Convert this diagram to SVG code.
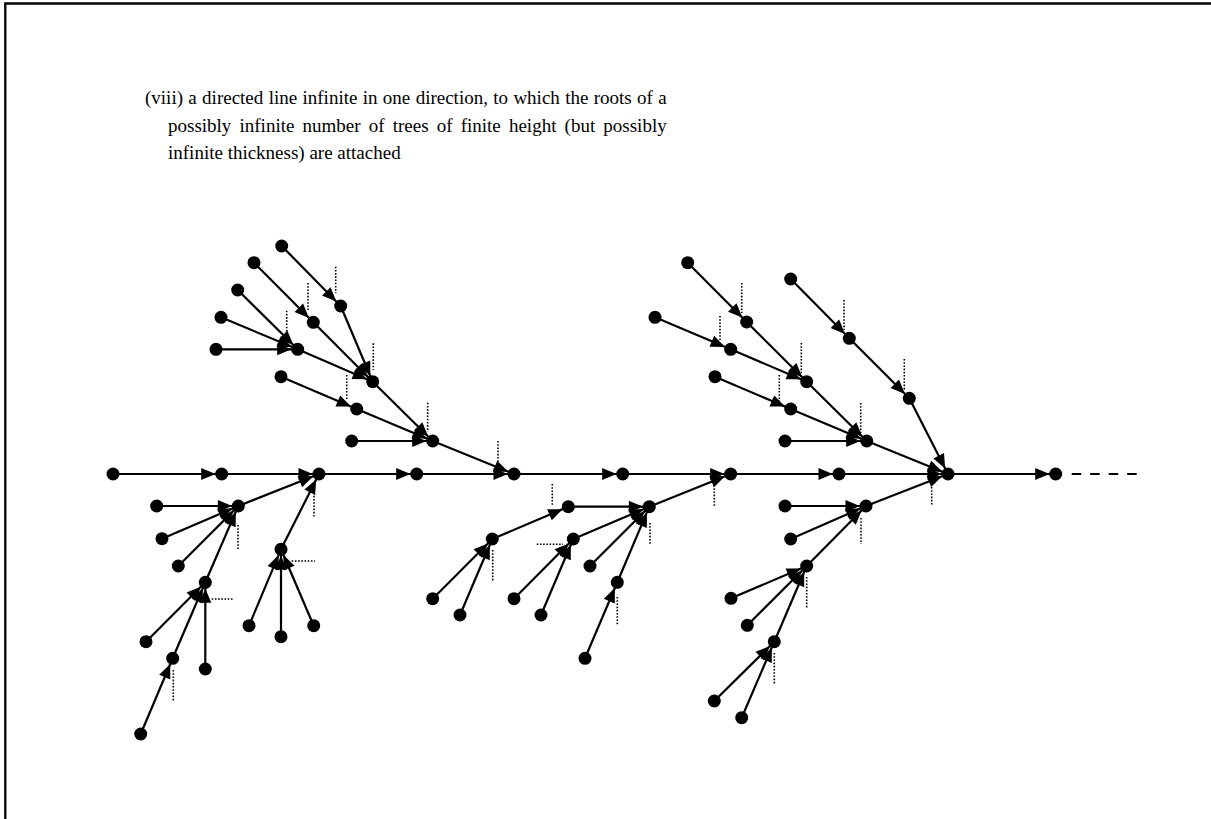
<svg xmlns="http://www.w3.org/2000/svg" width="1211" height="819" viewBox="0 0 1211 819">
<style>
.e{stroke:#000;stroke-width:2.2;fill:none;marker-end:url(#ah)}
.d{stroke:#000;stroke-width:1.6;stroke-dasharray:1.6 1.6;fill:none}
.n{fill:#000}
.t{font-family:"Liberation Serif","Times New Roman",serif;font-size:19px;fill:#000}
</style>
<defs>
<marker id="ah" markerUnits="userSpaceOnUse" markerWidth="22" markerHeight="13" refX="20.5" refY="6" orient="auto" overflow="visible">
<path d="M0,0 L14.3,6 L0,12 z" fill="#000"/>
</marker>
</defs>
<rect width="1211" height="819" fill="#fff"/>
<path d="M5.3,830 V3.5 H1220" fill="none" stroke="#000" stroke-width="2.3"/>
<g id="caption" class="t">
<text x="145" y="104" word-spacing="0.6">(viii) a directed line infinite in one direction, to which the roots of a</text>
<text x="168" y="131.5" word-spacing="3.4">possibly infinite number of trees of finite height (but possibly</text>
<text x="168" y="159">infinite thickness) are attached</text>
</g>
<g id="connectors">
<line class="e" x1="113" y1="474" x2="221.7" y2="474"/>
<line class="e" x1="221.7" y1="474" x2="319" y2="474"/>
<line class="e" x1="319" y1="474" x2="416.7" y2="474"/>
<line class="e" x1="416.7" y1="474" x2="514" y2="474"/>
<line class="e" x1="514" y1="474" x2="622.7" y2="474"/>
<line class="e" x1="622.7" y1="474" x2="730.7" y2="474"/>
<line class="e" x1="730.7" y1="474" x2="839" y2="474"/>
<line class="e" x1="839" y1="474" x2="948" y2="474"/>
<line class="e" x1="948" y1="474" x2="1055.7" y2="474"/>
<line x1="1071.7" y1="474" x2="1137" y2="474" stroke="#000" stroke-width="2.2" stroke-dasharray="9.5 9"/>
<line class="e" x1="432.7" y1="441" x2="514" y2="474"/>
<line class="e" x1="372.7" y1="381.7" x2="432.7" y2="441"/>
<line class="e" x1="356.7" y1="409" x2="432.7" y2="441"/>
<line class="e" x1="351.7" y1="441" x2="432.7" y2="441"/>
<line class="e" x1="281" y1="376.7" x2="356.7" y2="409"/>
<line class="e" x1="297.7" y1="349.3" x2="372.7" y2="381.7"/>
<line class="e" x1="313.3" y1="322.3" x2="372.7" y2="381.7"/>
<line class="e" x1="340.7" y1="306" x2="372.7" y2="381.7"/>
<line class="e" x1="281.7" y1="246" x2="340.7" y2="306"/>
<line class="e" x1="254" y1="262.7" x2="313.3" y2="322.3"/>
<line class="e" x1="237.7" y1="290" x2="297.7" y2="349.3"/>
<line class="e" x1="221" y1="317.3" x2="297.7" y2="349.3"/>
<line class="e" x1="216" y1="349.3" x2="297.7" y2="349.3"/>
<line class="e" x1="238.3" y1="506" x2="319" y2="474"/>
<line class="e" x1="281" y1="549.3" x2="319" y2="474"/>
<line class="e" x1="156.7" y1="506" x2="238.3" y2="506"/>
<line class="e" x1="162" y1="538.7" x2="238.3" y2="506"/>
<line class="e" x1="178.3" y1="566" x2="238.3" y2="506"/>
<line class="e" x1="205.3" y1="582.3" x2="238.3" y2="506"/>
<line class="e" x1="146" y1="641.7" x2="205.3" y2="582.3"/>
<line class="e" x1="172.7" y1="658.3" x2="205.3" y2="582.3"/>
<line class="e" x1="205.3" y1="669" x2="205.3" y2="582.3"/>
<line class="e" x1="140.7" y1="734" x2="172.7" y2="658.3"/>
<line class="e" x1="249" y1="625.7" x2="281" y2="549.3"/>
<line class="e" x1="281" y1="636.7" x2="281" y2="549.3"/>
<line class="e" x1="313.7" y1="625.7" x2="281" y2="549.3"/>
<line class="e" x1="649.3" y1="506.7" x2="730.7" y2="474"/>
<line class="e" x1="568.3" y1="506.7" x2="649.3" y2="506.7"/>
<line class="e" x1="573.3" y1="539" x2="649.3" y2="506.7"/>
<line class="e" x1="590" y1="566" x2="649.3" y2="506.7"/>
<line class="e" x1="617.3" y1="582.3" x2="649.3" y2="506.7"/>
<line class="e" x1="492.3" y1="539" x2="568.3" y2="506.7"/>
<line class="e" x1="432.7" y1="598.7" x2="492.3" y2="539"/>
<line class="e" x1="460" y1="615" x2="492.3" y2="539"/>
<line class="e" x1="514" y1="598.7" x2="573.3" y2="539"/>
<line class="e" x1="541" y1="615" x2="573.3" y2="539"/>
<line class="e" x1="585" y1="658.3" x2="617.3" y2="582.3"/>
<line class="e" x1="866.7" y1="441" x2="948" y2="474"/>
<line class="e" x1="909.3" y1="398.3" x2="948" y2="474"/>
<line class="e" x1="806.7" y1="381.7" x2="866.7" y2="441"/>
<line class="e" x1="790.7" y1="409" x2="866.7" y2="441"/>
<line class="e" x1="785" y1="441" x2="866.7" y2="441"/>
<line class="e" x1="746.7" y1="322" x2="806.7" y2="381.7"/>
<line class="e" x1="730.7" y1="349.3" x2="806.7" y2="381.7"/>
<line class="e" x1="687.7" y1="262.7" x2="746.7" y2="322"/>
<line class="e" x1="655" y1="317.3" x2="730.7" y2="349.3"/>
<line class="e" x1="715" y1="376.7" x2="790.7" y2="409"/>
<line class="e" x1="849.3" y1="338.3" x2="909.3" y2="398.3"/>
<line class="e" x1="790.7" y1="279" x2="849.3" y2="338.3"/>
<line class="e" x1="866" y1="506" x2="948" y2="474"/>
<line class="e" x1="785" y1="506" x2="866" y2="506"/>
<line class="e" x1="790.7" y1="539" x2="866" y2="506"/>
<line class="e" x1="806.7" y1="566" x2="866" y2="506"/>
<line class="e" x1="731" y1="598.3" x2="806.7" y2="566"/>
<line class="e" x1="747.3" y1="625.3" x2="806.7" y2="566"/>
<line class="e" x1="774.3" y1="641.7" x2="806.7" y2="566"/>
<line class="e" x1="714.3" y1="701" x2="774.3" y2="641.7"/>
<line class="e" x1="741.7" y1="717.7" x2="774.3" y2="641.7"/>
<line class="d" x1="335.7" y1="266.7" x2="335.7" y2="293"/>
<line class="d" x1="308" y1="283" x2="308" y2="310"/>
<line class="d" x1="286.7" y1="310.7" x2="286.7" y2="333.3"/>
<line class="d" x1="373.3" y1="343.3" x2="373.3" y2="370"/>
<line class="d" x1="346.7" y1="375" x2="346.7" y2="400"/>
<line class="d" x1="427.7" y1="402.7" x2="427.7" y2="431.7"/>
<line class="d" x1="498" y1="441" x2="498" y2="470"/>
<line class="d" x1="314" y1="483" x2="314" y2="517"/>
<line class="d" x1="238" y1="525" x2="238" y2="549"/>
<line class="d" x1="291.7" y1="561" x2="315" y2="561"/>
<line class="d" x1="211.7" y1="599" x2="233.3" y2="599"/>
<line class="d" x1="173.3" y1="670" x2="173.3" y2="701"/>
<line class="d" x1="552.3" y1="484" x2="552.3" y2="506"/>
<line class="d" x1="650" y1="523" x2="650" y2="544"/>
<line class="d" x1="536.7" y1="544.3" x2="563" y2="544.3"/>
<line class="d" x1="492.7" y1="550" x2="492.7" y2="582"/>
<line class="d" x1="617.3" y1="597" x2="617.3" y2="625"/>
<line class="d" x1="714.3" y1="485" x2="714.3" y2="506"/>
<line class="d" x1="741.7" y1="283" x2="741.7" y2="313"/>
<line class="d" x1="720" y1="316" x2="720" y2="340"/>
<line class="d" x1="844" y1="300" x2="844" y2="330"/>
<line class="d" x1="801.3" y1="343" x2="801.3" y2="373"/>
<line class="d" x1="779.3" y1="375" x2="779.3" y2="402"/>
<line class="d" x1="904.3" y1="359" x2="904.3" y2="390"/>
<line class="d" x1="860.7" y1="403" x2="860.7" y2="433"/>
<line class="d" x1="931.7" y1="487" x2="931.7" y2="506"/>
<line class="d" x1="861" y1="518" x2="861" y2="544"/>
<line class="d" x1="806.7" y1="577" x2="806.7" y2="608"/>
<line class="d" x1="774.3" y1="653" x2="774.3" y2="685"/>
</g>
<g id="nodes" class="n">
<g id="m0"><circle cx="113" cy="474" r="6.5"/></g>
<g id="m1"><circle cx="221.7" cy="474" r="6.5"/></g>
<g id="m2"><circle cx="319" cy="474" r="6.5"/></g>
<g id="m3"><circle cx="416.7" cy="474" r="6.5"/></g>
<g id="m4"><circle cx="514" cy="474" r="6.5"/></g>
<g id="m5"><circle cx="622.7" cy="474" r="6.5"/></g>
<g id="m6"><circle cx="730.7" cy="474" r="6.5"/></g>
<g id="m7"><circle cx="839" cy="474" r="6.5"/></g>
<g id="m8"><circle cx="948" cy="474" r="6.5"/></g>
<g id="m9"><circle cx="1055.7" cy="474" r="6.5"/></g>
<g id="a1"><circle cx="432.7" cy="441" r="6.5"/></g>
<g id="a2"><circle cx="372.7" cy="381.7" r="6.5"/></g>
<g id="a3"><circle cx="356.7" cy="409" r="6.5"/></g>
<g id="a4"><circle cx="351.7" cy="441" r="6.5"/></g>
<g id="a5"><circle cx="281" cy="376.7" r="6.5"/></g>
<g id="a6"><circle cx="297.7" cy="349.3" r="6.5"/></g>
<g id="a7"><circle cx="313.3" cy="322.3" r="6.5"/></g>
<g id="a8"><circle cx="340.7" cy="306" r="6.5"/></g>
<g id="a9"><circle cx="281.7" cy="246" r="6.5"/></g>
<g id="a10"><circle cx="254" cy="262.7" r="6.5"/></g>
<g id="a11"><circle cx="237.7" cy="290" r="6.5"/></g>
<g id="a12"><circle cx="221" cy="317.3" r="6.5"/></g>
<g id="a13"><circle cx="216" cy="349.3" r="6.5"/></g>
<g id="b1"><circle cx="238.3" cy="506" r="6.5"/></g>
<g id="b2"><circle cx="281" cy="549.3" r="6.5"/></g>
<g id="b3"><circle cx="156.7" cy="506" r="6.5"/></g>
<g id="b4"><circle cx="162" cy="538.7" r="6.5"/></g>
<g id="b5"><circle cx="178.3" cy="566" r="6.5"/></g>
<g id="b6"><circle cx="205.3" cy="582.3" r="6.5"/></g>
<g id="b7"><circle cx="146" cy="641.7" r="6.5"/></g>
<g id="b8"><circle cx="172.7" cy="658.3" r="6.5"/></g>
<g id="b9"><circle cx="205.3" cy="669" r="6.5"/></g>
<g id="b10"><circle cx="140.7" cy="734" r="6.5"/></g>
<g id="b11"><circle cx="249" cy="625.7" r="6.5"/></g>
<g id="b12"><circle cx="281" cy="636.7" r="6.5"/></g>
<g id="b13"><circle cx="313.7" cy="625.7" r="6.5"/></g>
<g id="c1"><circle cx="649.3" cy="506.7" r="6.5"/></g>
<g id="c2"><circle cx="568.3" cy="506.7" r="6.5"/></g>
<g id="c3"><circle cx="573.3" cy="539" r="6.5"/></g>
<g id="c4"><circle cx="590" cy="566" r="6.5"/></g>
<g id="c5"><circle cx="617.3" cy="582.3" r="6.5"/></g>
<g id="c6"><circle cx="492.3" cy="539" r="6.5"/></g>
<g id="c7"><circle cx="432.7" cy="598.7" r="6.5"/></g>
<g id="c8"><circle cx="460" cy="615" r="6.5"/></g>
<g id="c9"><circle cx="514" cy="598.7" r="6.5"/></g>
<g id="c10"><circle cx="541" cy="615" r="6.5"/></g>
<g id="c11"><circle cx="585" cy="658.3" r="6.5"/></g>
<g id="d1"><circle cx="866.7" cy="441" r="6.5"/></g>
<g id="d2"><circle cx="909.3" cy="398.3" r="6.5"/></g>
<g id="d3"><circle cx="806.7" cy="381.7" r="6.5"/></g>
<g id="d4"><circle cx="790.7" cy="409" r="6.5"/></g>
<g id="d5"><circle cx="785" cy="441" r="6.5"/></g>
<g id="d6"><circle cx="746.7" cy="322" r="6.5"/></g>
<g id="d7"><circle cx="730.7" cy="349.3" r="6.5"/></g>
<g id="d8"><circle cx="687.7" cy="262.7" r="6.5"/></g>
<g id="d9"><circle cx="655" cy="317.3" r="6.5"/></g>
<g id="d10"><circle cx="715" cy="376.7" r="6.5"/></g>
<g id="d11"><circle cx="849.3" cy="338.3" r="6.5"/></g>
<g id="d12"><circle cx="790.7" cy="279" r="6.5"/></g>
<g id="e1"><circle cx="866" cy="506" r="6.5"/></g>
<g id="e2"><circle cx="785" cy="506" r="6.5"/></g>
<g id="e3"><circle cx="790.7" cy="539" r="6.5"/></g>
<g id="e4"><circle cx="806.7" cy="566" r="6.5"/></g>
<g id="e5"><circle cx="731" cy="598.3" r="6.5"/></g>
<g id="e6"><circle cx="747.3" cy="625.3" r="6.5"/></g>
<g id="e7"><circle cx="774.3" cy="641.7" r="6.5"/></g>
<g id="e8"><circle cx="714.3" cy="701" r="6.5"/></g>
<g id="e9"><circle cx="741.7" cy="717.7" r="6.5"/></g>
</g>
</svg>
